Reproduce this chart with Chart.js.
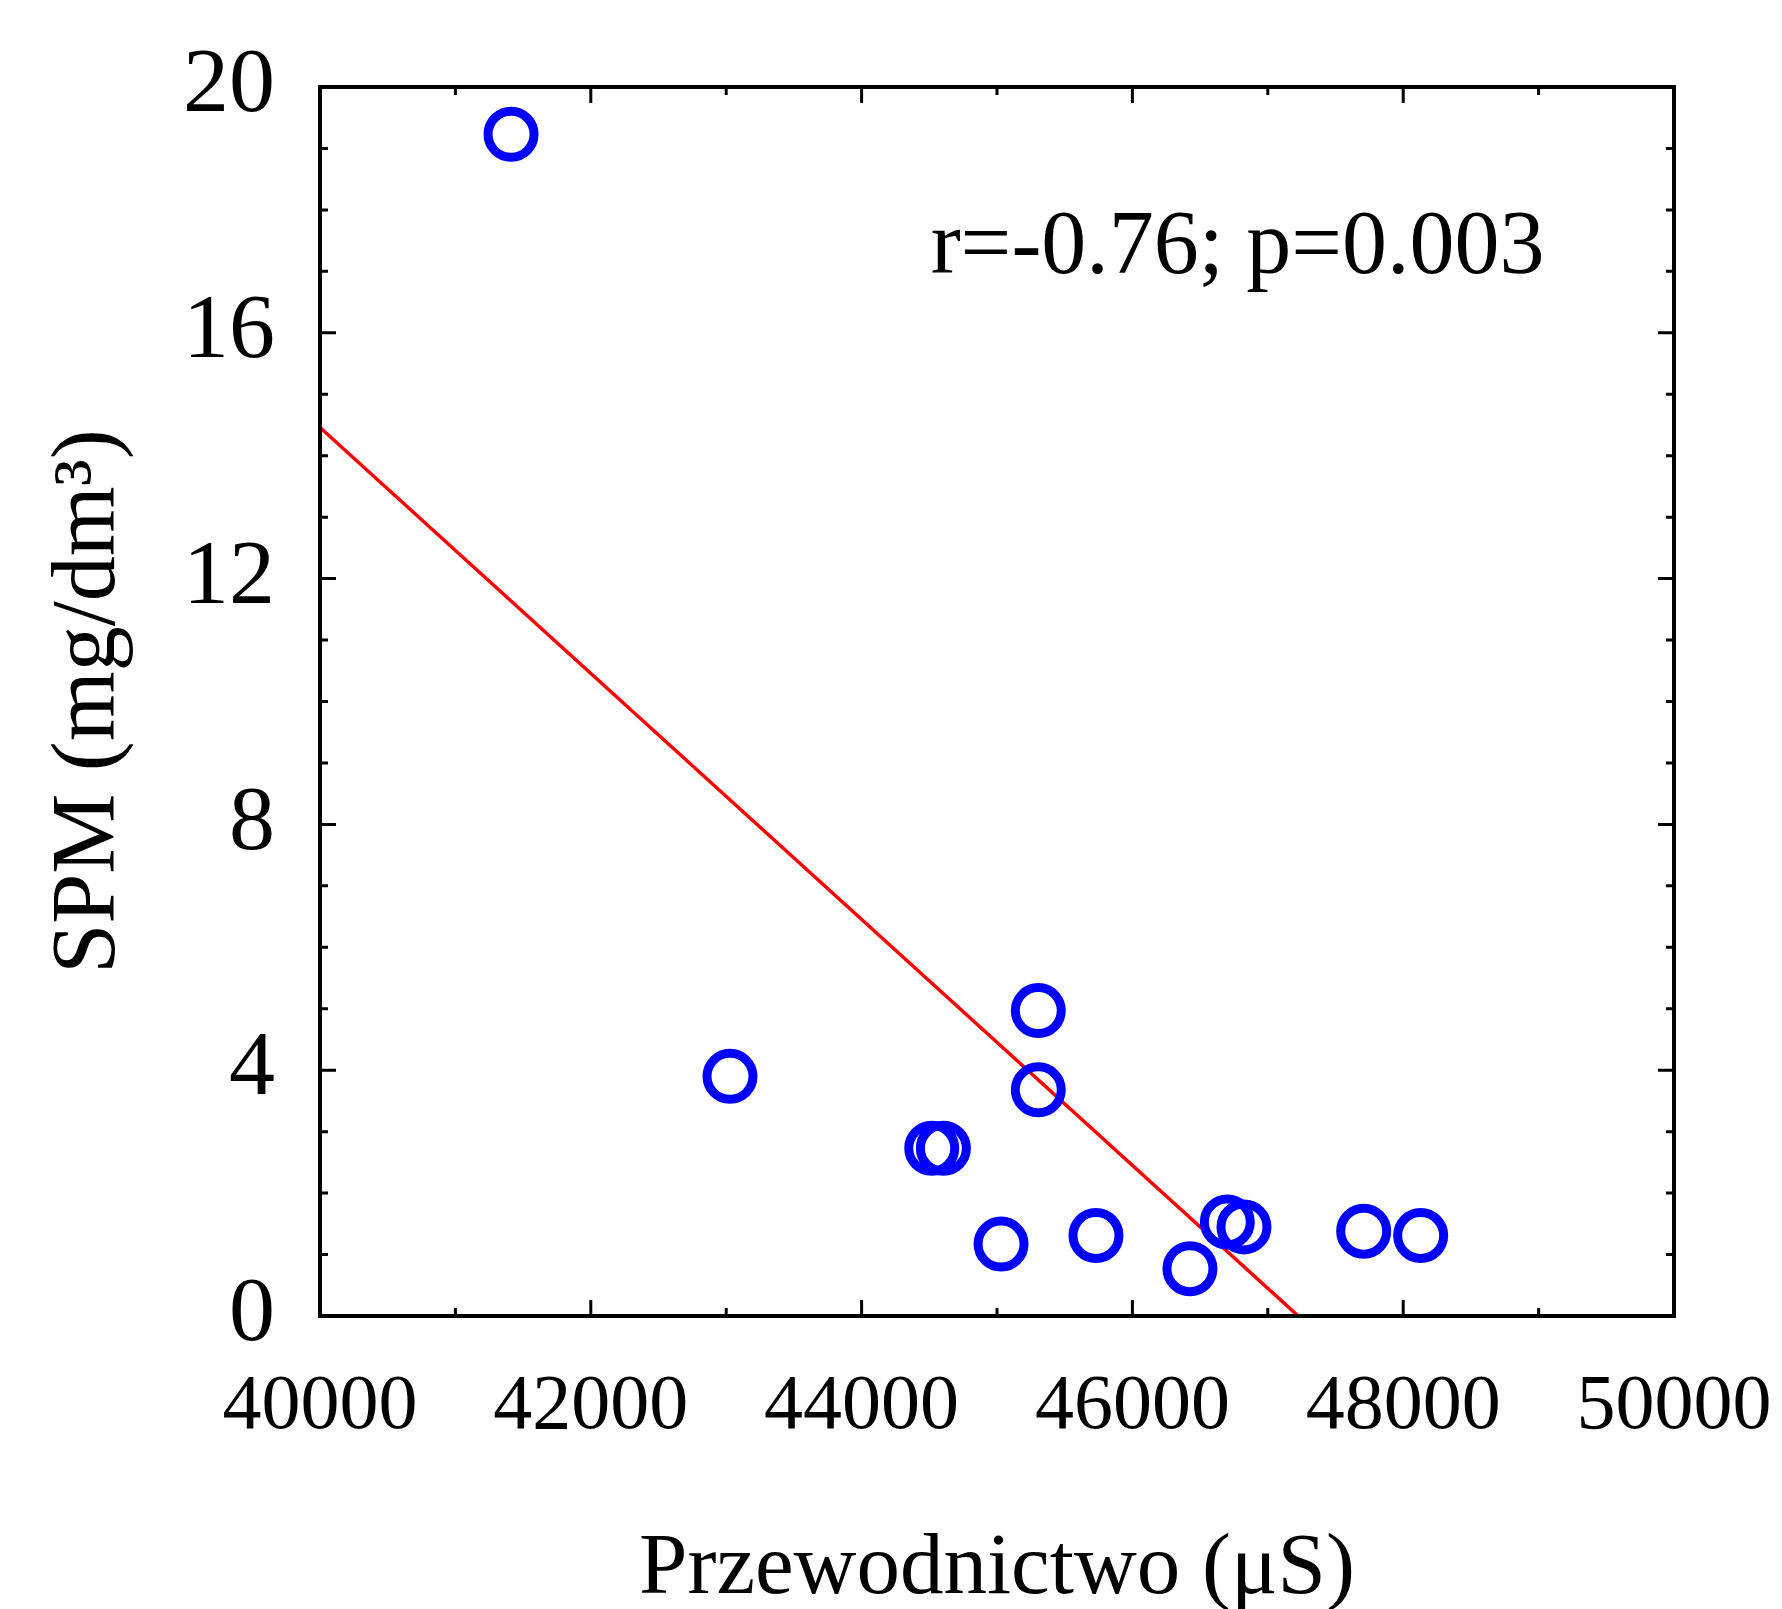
<!DOCTYPE html>
<html>
<head>
<meta charset="utf-8">
<script src="https://cdn.jsdelivr.net/npm/chart.js@4.4.1/dist/chart.umd.min.js"></script>
<style>
    html, body { margin: 0; padding: 0; background: #fff; }
    #wrap { width: 1782px; height: 1609px; }
</style>
</head>
<body>
<div id="wrap"><canvas id="chart" width="1782" height="1609"></canvas></div>
<script>
// Data
const conductivity = [41411, 43028, 44518, 44604, 45030, 45305, 45305, 45731, 46425, 46701, 46824, 47708, 48129];
const spm = [19.23, 3.90, 2.73, 2.73, 1.17, 4.97, 3.68, 1.31, 0.77, 1.53, 1.45, 1.38, 1.31];

const fitX = [40000, 47225];
const fitY = [14.46, 0];

const xTicks = [40000, 42000, 44000, 46000, 48000, 50000];
const xMinor = [41000, 43000, 45000, 47000, 49000];
const yTicks = [0, 4, 8, 12, 16, 20];
const yMinor = [1, 2, 3, 5, 6, 7, 9, 10, 11, 13, 14, 15, 17, 18, 19];

const statsLabel = 'r=-0.76; p=0.003';
const statsPos = [44510, 16.98];

const FONT = '"Liberation Serif", "Times New Roman", serif';

// box around plot + inward ticks on all four sides
const frameTicks = {
    id: 'frameTicks',
    afterDatasetsDraw(chart) {
        const { ctx, chartArea: a, scales: { x, y } } = chart;
        ctx.save();
        ctx.strokeStyle = '#000';
        ctx.lineWidth = 3;
        const tick = (vals, len) => {
            vals.forEach(v => {
                const px = x.getPixelForValue(v);
                ctx.beginPath();
                ctx.moveTo(px, a.bottom); ctx.lineTo(px, a.bottom - len);
                ctx.moveTo(px, a.top); ctx.lineTo(px, a.top + len);
                ctx.stroke();
            });
        };
        const tickY = (vals, len) => {
            vals.forEach(v => {
                const py = y.getPixelForValue(v);
                ctx.beginPath();
                ctx.moveTo(a.left, py); ctx.lineTo(a.left + len, py);
                ctx.moveTo(a.right, py); ctx.lineTo(a.right - len, py);
                ctx.stroke();
            });
        };
        tick(xTicks, 16); tick(xMinor, 8);
        tickY(yTicks, 16); tickY(yMinor, 8);
        ctx.lineWidth = 4;
        ctx.strokeRect(a.left, a.top, a.right - a.left, a.bottom - a.top);

        ctx.fillStyle = '#000';
        ctx.font = '90px ' + FONT;
        ctx.textAlign = 'left';
        ctx.textBaseline = 'alphabetic';
        ctx.fillText(statsLabel, x.getPixelForValue(statsPos[0]), y.getPixelForValue(statsPos[1]));
        ctx.restore();
    }
};

const noPad = s => { s.paddingLeft = 0; s.paddingRight = 0; s.paddingTop = 0; s.paddingBottom = 0; };

new Chart(document.getElementById('chart'), {
    type: 'scatter',
    data: {
        datasets: [
            {
                label: 'SPM',
                data: conductivity.map((v, i) => ({ x: v, y: spm[i] })),
                showLine: false,
                borderColor: '#0000ff',
                pointBorderColor: '#0000ff',
                pointBackgroundColor: 'rgba(0,0,0,0)',
                pointBorderWidth: 9,
                pointRadius: 23,
                pointHoverRadius: 23,
                pointHoverBorderWidth: 9
            },
            {
                type: 'line',
                label: 'fit',
                data: fitX.map((v, i) => ({ x: v, y: fitY[i] })),
                borderColor: '#ff0000',
                borderWidth: 3.5,
                pointRadius: 0,
                fill: false
            }
        ]
    },
    options: {
        responsive: false,
        animation: false,
        events: [],
        layout: { padding: { left: 0, right: 108, top: 87, bottom: 0 } },
        plugins: { legend: { display: false }, tooltip: { enabled: false } },
        scales: {
            x: {
                type: 'linear',
                min: 40000, max: 50000,
                afterBuildTicks: s => { s.ticks = xTicks.map(v => ({ value: v })); },
                afterFit: s => { s.height = 293; noPad(s); },
                grid: { display: false, drawTicks: false },
                border: { display: false },
                ticks: {
                    color: '#000', padding: 45, maxRotation: 0, autoSkip: false,
                    font: { family: FONT, size: 78, lineHeight: 1.2 },
                    callback: v => String(v)
                },
                title: {
                    display: true,
                    text: 'Przewodnictwo (μS)',
                    color: '#000',
                    font: { family: FONT, size: 87, lineHeight: 0.9 },
                    padding: { top: 0, bottom: 0 }
                }
            },
            y: {
                type: 'linear',
                min: 0, max: 20,
                afterBuildTicks: s => { s.ticks = yTicks.map(v => ({ value: v })); },
                afterFit: s => { s.width = 320; noPad(s); },
                grid: { display: false, drawTicks: false },
                border: { display: false },
                ticks: {
                    color: '#000', padding: 45, autoSkip: false,
                    font: { family: FONT, size: 92 },
                    callback: v => String(v)
                },
                title: {
                    display: true,
                    text: 'SPM (mg/dm³)',
                    color: '#000',
                    font: { family: FONT, size: 90, lineHeight: 1 },
                    padding: { top: 45, bottom: 0 }
                }
            }
        }
    },
    plugins: [frameTicks]
});
</script>
</body>
</html>
